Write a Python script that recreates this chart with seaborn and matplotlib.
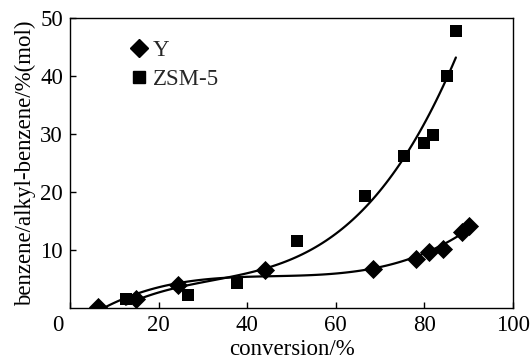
import numpy as np
import pandas as pd
import matplotlib
matplotlib.use("Agg")
import matplotlib.pyplot as plt
import matplotlib.transforms as mtransforms
import seaborn as sns

# Y zeolite
y_conv = [6.4, 14.9, 24.4, 44.0, 68.5, 78.0, 81.1, 84.3, 88.4, 90.0]
y_ratio = [0.2, 1.5, 3.9, 6.5, 6.8, 8.5, 9.7, 10.2, 13.2, 14.1]

# ZSM-5 zeolite
zsm_conv = [12.6, 26.6, 37.8, 51.3, 66.7, 75.4, 79.8, 82.0, 85.0, 87.1]
zsm_ratio = [1.5, 2.25, 4.4, 11.6, 19.3, 26.3, 28.5, 29.8, 40.0, 47.8]

x_ticks = [0, 20, 40, 60, 80, 100]
y_ticks = [10, 20, 30, 40, 50]

sns.set_theme(style="ticks")
plt.rcParams["font.family"] = ["Liberation Serif", "DejaVu Serif"]

df_y = pd.DataFrame({"conversion": y_conv, "ratio": y_ratio})
df_z = pd.DataFrame({"conversion": zsm_conv, "ratio": zsm_ratio})

FS = 16.5

fig = plt.figure(figsize=(5.30, 3.62), dpi=100)
ax = fig.add_axes([0.132, 0.149, 0.836, 0.801])

sns.regplot(data=df_y, x="conversion", y="ratio", order=3, ci=None, ax=ax,
            marker="D", color="black",
            scatter_kws=dict(s=95, alpha=1, linewidths=0, zorder=3),
            line_kws=dict(color="black", lw=1.6))
sns.regplot(data=df_z, x="conversion", y="ratio", order=3, ci=None, ax=ax,
            marker="s", color="black",
            scatter_kws=dict(s=80, alpha=1, linewidths=0, zorder=3),
            line_kws=dict(color="black", lw=1.6))

ax.set_xlim(0, 100)
ax.set_ylim(0, 50)
ax.set_xticks(x_ticks)
ax.set_yticks(y_ticks)
ax.set_xticklabels([str(v) for v in x_ticks])
ax.set_yticklabels([str(v) for v in y_ticks])
ax.tick_params(direction="in", length=4, width=1, labelsize=FS, colors="black", pad=5)

# shared origin label sits a little left of the axis corner
lbl0 = ax.get_xticklabels()[0]
lbl0.set_transform(lbl0.get_transform() +
                   mtransforms.ScaledTranslation(-12 / 100, 0, fig.dpi_scale_trans))

for sp in ax.spines.values():
    sp.set_visible(True)
    sp.set_color("black")
    sp.set_linewidth(1.0)

ax.set_xlabel("conversion/%", fontsize=FS, labelpad=2, color="black")
ax.set_ylabel("benzene/alkyl-benzene/%(mol)", fontsize=FS, labelpad=3, color="black")

# legend
ax.plot([], [], "D", color="black", ms=9, label="Y")
ax.plot([], [], "s", color="black", ms=8.5, label="ZSM-5")
handles, labels = ax.get_legend_handles_labels()
ax.legend(handles[-2:], labels[-2:], loc="upper left", bbox_to_anchor=(0.12, 0.955),
          frameon=False, fontsize=FS, handlelength=0.6, handletextpad=0.3,
          labelspacing=0.35, borderaxespad=0)

fig.savefig("out.png", dpi=100)
